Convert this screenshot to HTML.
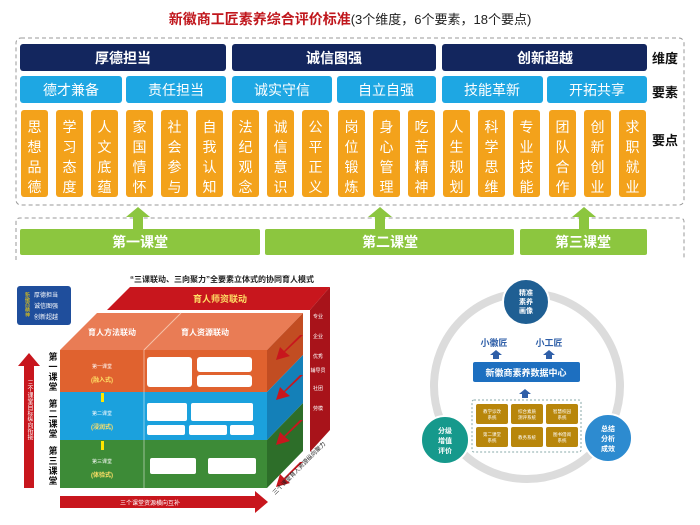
<!DOCTYPE html>
<html><head><meta charset="utf-8"><style>
html,body{margin:0;padding:0;background:#fff;}
svg{display:block;font-family:"Liberation Sans","Noto Sans CJK SC",sans-serif;}
</style></head><body>
<svg width="700" height="525" viewBox="0 0 700 525" xmlns="http://www.w3.org/2000/svg">
<!-- TOP -->
<text x="350" y="24" text-anchor="middle" font-size="14" font-weight="bold"><tspan fill="#c0161c">新徽商工匠素养综合评价标准</tspan><tspan fill="#222" font-weight="normal" font-size="13">(3个维度，6个要素，18个要点)</tspan></text>
<rect x="16" y="38" width="668" height="167" rx="5" fill="none" stroke="#999" stroke-dasharray="4,3"/>
<g fill="#13265e">
<rect x="20" y="44" width="206" height="27" rx="3"/><rect x="232" y="44" width="204" height="27" rx="3"/><rect x="442" y="44" width="205" height="27" rx="3"/>
</g>
<g fill="#fff" font-size="14" font-weight="bold" text-anchor="middle">
<text x="123" y="63">厚德担当</text><text x="334" y="63">诚信图强</text><text x="545" y="63">创新超越</text>
</g>
<g fill="#1ea7e3">
<rect x="20" y="76" width="102" height="27" rx="3"/><rect x="126" y="76" width="100" height="27" rx="3"/><rect x="232" y="76" width="100" height="27" rx="3"/><rect x="337" y="76" width="99" height="27" rx="3"/><rect x="442" y="76" width="101" height="27" rx="3"/><rect x="547" y="76" width="100" height="27" rx="3"/>
</g>
<g fill="#fff" font-size="14" text-anchor="middle">
<text x="71" y="95">德才兼备</text><text x="176" y="95">责任担当</text><text x="282" y="95">诚实守信</text><text x="386" y="95">自立自强</text><text x="492" y="95">技能革新</text><text x="597" y="95">开拓共享</text>
</g>
<g font-size="13" font-weight="bold" fill="#111">
<text x="652" y="63">维度</text><text x="652" y="97">要素</text><text x="652" y="145">要点</text>
</g>
<g fill="#f3a21b">
<rect x="21" y="110" width="27" height="87" rx="3"/><rect x="56" y="110" width="27" height="87" rx="3"/><rect x="91" y="110" width="27" height="87" rx="3"/><rect x="126" y="110" width="27" height="87" rx="3"/><rect x="161" y="110" width="27" height="87" rx="3"/><rect x="196" y="110" width="27" height="87" rx="3"/>
<rect x="232" y="110" width="27" height="87" rx="3"/><rect x="267" y="110" width="27" height="87" rx="3"/><rect x="302" y="110" width="27" height="87" rx="3"/><rect x="338" y="110" width="27" height="87" rx="3"/><rect x="373" y="110" width="27" height="87" rx="3"/><rect x="408" y="110" width="27" height="87" rx="3"/>
<rect x="443" y="110" width="27" height="87" rx="3"/><rect x="478" y="110" width="27" height="87" rx="3"/><rect x="513" y="110" width="27" height="87" rx="3"/><rect x="549" y="110" width="27" height="87" rx="3"/><rect x="584" y="110" width="27" height="87" rx="3"/><rect x="619" y="110" width="27" height="87" rx="3"/>
</g>
<g fill="#fff" font-size="14" text-anchor="middle">
<text x="34.5" y="132"><tspan x="34.5">思</tspan><tspan x="34.5" dy="20">想</tspan><tspan x="34.5" dy="20">品</tspan><tspan x="34.5" dy="20">德</tspan></text>
<text y="132"><tspan x="69.5">学</tspan><tspan x="69.5" dy="20">习</tspan><tspan x="69.5" dy="20">态</tspan><tspan x="69.5" dy="20">度</tspan></text>
<text y="132"><tspan x="104.5">人</tspan><tspan x="104.5" dy="20">文</tspan><tspan x="104.5" dy="20">底</tspan><tspan x="104.5" dy="20">蕴</tspan></text>
<text y="132"><tspan x="139.5">家</tspan><tspan x="139.5" dy="20">国</tspan><tspan x="139.5" dy="20">情</tspan><tspan x="139.5" dy="20">怀</tspan></text>
<text y="132"><tspan x="174.5">社</tspan><tspan x="174.5" dy="20">会</tspan><tspan x="174.5" dy="20">参</tspan><tspan x="174.5" dy="20">与</tspan></text>
<text y="132"><tspan x="209.5">自</tspan><tspan x="209.5" dy="20">我</tspan><tspan x="209.5" dy="20">认</tspan><tspan x="209.5" dy="20">知</tspan></text>
<text y="132"><tspan x="245.5">法</tspan><tspan x="245.5" dy="20">纪</tspan><tspan x="245.5" dy="20">观</tspan><tspan x="245.5" dy="20">念</tspan></text>
<text y="132"><tspan x="280.5">诚</tspan><tspan x="280.5" dy="20">信</tspan><tspan x="280.5" dy="20">意</tspan><tspan x="280.5" dy="20">识</tspan></text>
<text y="132"><tspan x="315.5">公</tspan><tspan x="315.5" dy="20">平</tspan><tspan x="315.5" dy="20">正</tspan><tspan x="315.5" dy="20">义</tspan></text>
<text y="132"><tspan x="351.5">岗</tspan><tspan x="351.5" dy="20">位</tspan><tspan x="351.5" dy="20">锻</tspan><tspan x="351.5" dy="20">炼</tspan></text>
<text y="132"><tspan x="386.5">身</tspan><tspan x="386.5" dy="20">心</tspan><tspan x="386.5" dy="20">管</tspan><tspan x="386.5" dy="20">理</tspan></text>
<text y="132"><tspan x="421.5">吃</tspan><tspan x="421.5" dy="20">苦</tspan><tspan x="421.5" dy="20">精</tspan><tspan x="421.5" dy="20">神</tspan></text>
<text y="132"><tspan x="456.5">人</tspan><tspan x="456.5" dy="20">生</tspan><tspan x="456.5" dy="20">规</tspan><tspan x="456.5" dy="20">划</tspan></text>
<text y="132"><tspan x="491.5">科</tspan><tspan x="491.5" dy="20">学</tspan><tspan x="491.5" dy="20">思</tspan><tspan x="491.5" dy="20">维</tspan></text>
<text y="132"><tspan x="526.5">专</tspan><tspan x="526.5" dy="20">业</tspan><tspan x="526.5" dy="20">技</tspan><tspan x="526.5" dy="20">能</tspan></text>
<text y="132"><tspan x="562.5">团</tspan><tspan x="562.5" dy="20">队</tspan><tspan x="562.5" dy="20">合</tspan><tspan x="562.5" dy="20">作</tspan></text>
<text y="132"><tspan x="597.5">创</tspan><tspan x="597.5" dy="20">新</tspan><tspan x="597.5" dy="20">创</tspan><tspan x="597.5" dy="20">业</tspan></text>
<text y="132"><tspan x="632.5">求</tspan><tspan x="632.5" dy="20">职</tspan><tspan x="632.5" dy="20">就</tspan><tspan x="632.5" dy="20">业</tspan></text>
</g>
<path d="M16 260 V222 Q16 218 20 218 H680 Q684 218 684 222 V260" fill="none" stroke="#999" stroke-dasharray="4,3"/>
<g fill="#8cc63f">
<polygon points="138,207 150,217 143,217 143,229 133,229 133,217 126,217"/>
<polygon points="380,207 392,217 385,217 385,229 375,229 375,217 368,217"/>
<polygon points="584,207 596,217 589,217 589,229 579,229 579,217 572,217"/>
<rect x="20" y="229" width="240" height="26" rx="2"/><rect x="265" y="229" width="249" height="26" rx="2"/><rect x="520" y="229" width="127" height="26" rx="2"/>
</g>
<g fill="#fff" font-size="14" font-weight="bold" text-anchor="middle">
<text x="140" y="247">第一课堂</text><text x="390" y="247">第二课堂</text><text x="583" y="247">第三课堂</text>
</g>

<!-- BOTTOM LEFT -->
<text x="222" y="282" text-anchor="middle" font-size="8" font-weight="bold" fill="#222">“三课联动、三向聚力”全要素立体式的协同育人模式</text>
<rect x="17" y="286" width="54" height="39" rx="3" fill="#1f4e9c"/>
<g fill="#fff" font-size="6"><text x="34" y="297">厚德担当</text><text x="34" y="308">诚信图强</text><text x="34" y="319">创新超越</text></g>
<text x="27" y="292" font-size="5" fill="#ffd400" writing-mode="tb">新徽商精神</text>
<!-- red back slab -->
<polygon points="107,310 130,287 330,287 310,310" fill="#c8161d"/>
<polygon points="310,310 330,287 330,430 310,452" fill="#a8131a"/>
<text x="220" y="302" text-anchor="middle" font-size="9" font-weight="bold" fill="#ffe066">育人师资联动</text>
<g fill="#fff" font-size="5" text-anchor="middle"><text x="318" y="318">专业</text><text x="318" y="338">企业</text><text x="318" y="358">优秀</text><text x="318" y="372">辅导员</text><text x="318" y="390">社团</text><text x="318" y="410">劳模</text></g>
<!-- orange -->
<polygon points="60,350 97,313 303,313 267,350" fill="#e97c55"/>
<line x1="144" y1="350" x2="181" y2="313" stroke="#f6c2a8" stroke-width="1"/>
<text x="112" y="335" text-anchor="middle" font-size="8" font-weight="bold" fill="#fff">育人方法联动</text>
<text x="205" y="335" text-anchor="middle" font-size="8" font-weight="bold" fill="#fff">育人资源联动</text>
<rect x="60" y="350" width="207" height="42" fill="#e0622f"/>
<polygon points="267,350 303,313 303,355 267,392" fill="#c24d22"/>
<rect x="147" y="357" width="45" height="30" rx="3" fill="#fff"/><rect x="197" y="357" width="55" height="15" rx="3" fill="#fff"/><rect x="197" y="375" width="55" height="12" rx="3" fill="#fff"/>
<!-- blue -->
<rect x="60" y="392" width="207" height="48" fill="#1ba1dd"/>
<polygon points="267,392 303,355 303,403 267,440" fill="#1480b8"/>
<rect x="147" y="403" width="40" height="18" rx="2" fill="#fff"/><rect x="191" y="403" width="62" height="18" rx="2" fill="#fff"/>
<rect x="147" y="425" width="38" height="10" rx="2" fill="#fff"/><rect x="189" y="425" width="38" height="10" rx="2" fill="#fff"/><rect x="230" y="425" width="24" height="10" rx="2" fill="#fff"/>
<!-- green -->
<rect x="60" y="440" width="207" height="48" fill="#3d8b37"/>
<polygon points="267,440 303,403 303,451 267,488" fill="#2d6e29"/>
<rect x="150" y="458" width="46" height="16" rx="2" fill="#fff"/><rect x="208" y="458" width="48" height="16" rx="2" fill="#fff"/>
<line x1="144" y1="350" x2="144" y2="488" stroke="#fff" stroke-width="0.8" opacity=".6"/>
<g fill="#fff" font-size="5" text-anchor="middle">
<text x="102" y="368">第一课堂</text><text x="102" y="415">第二课堂</text><text x="102" y="463">第三课堂</text>
</g>
<g fill="#ffe066" font-size="6" font-weight="bold" text-anchor="middle">
<text x="102" y="382">(融入式)</text><text x="102" y="429">(浸润式)</text><text x="102" y="477">(体验式)</text>
</g>
<g fill="#ffe600"><rect x="101" y="393" width="3" height="9"/><rect x="101" y="441" width="3" height="9"/></g>
<g font-size="9" font-weight="bold" fill="#111" text-anchor="middle">
<text y="360"><tspan x="53">第</tspan><tspan x="53" dy="10">一</tspan><tspan x="53" dy="10">课</tspan><tspan x="53" dy="10">堂</tspan></text>
<text y="407"><tspan x="53">第</tspan><tspan x="53" dy="10">二</tspan><tspan x="53" dy="10">课</tspan><tspan x="53" dy="10">堂</tspan></text>
<text y="454"><tspan x="53">第</tspan><tspan x="53" dy="10">三</tspan><tspan x="53" dy="10">课</tspan><tspan x="53" dy="10">堂</tspan></text>
</g>
<polygon points="29,353 40,366 34,366 34,488 24,488 24,366 18,366" fill="#c8161d"/>
<text x="29" y="380" font-size="6" fill="#fff" writing-mode="tb">三个课堂目标纵向衔接</text>
<polygon points="60,496 255,496 255,491 268,502 255,513 255,508 60,508" fill="#c8161d"/>
<text x="150" y="505" text-anchor="middle" font-size="6" fill="#fff">三个课堂资源横向互补</text>
<g fill="#c8161d">
<polygon points="303,335 285,352 290,356 276,360 280,347 284,351 300,335"/>
<polygon points="303,375 285,392 290,396 276,400 280,387 284,391 300,375"/>
<polygon points="303,420 285,437 290,441 276,445 280,432 284,436 300,420"/>
<polygon points="303,462 285,479 290,483 276,487 280,474 284,478 300,462"/>
</g>
<text x="275" y="495" font-size="6" fill="#222" transform="rotate(-45 275 495)">三个课堂育人资源纵向聚力</text>

<!-- BOTTOM RIGHT -->
<circle cx="527" cy="386" r="93" fill="none" stroke="#dcdcdc" stroke-width="8"/>
<circle cx="526" cy="302" r="23" fill="#1f5f93" stroke="#fff" stroke-width="2"/>
<g fill="#fff" font-size="7" font-weight="bold" text-anchor="middle"><text x="526" y="295">精准</text><text x="526" y="304">素养</text><text x="526" y="313">画像</text></g>
<circle cx="445" cy="440" r="24" fill="#16998c" stroke="#fff" stroke-width="2"/>
<g fill="#fff" font-size="7" font-weight="bold" text-anchor="middle"><text x="445" y="433">分级</text><text x="445" y="443">增值</text><text x="445" y="453">评价</text></g>
<circle cx="608" cy="438" r="24" fill="#2d8bd0" stroke="#fff" stroke-width="2"/>
<g fill="#fff" font-size="7" font-weight="bold" text-anchor="middle"><text x="608" y="431">总结</text><text x="608" y="441">分析</text><text x="608" y="451">成效</text></g>
<g fill="#2f5fa8" font-size="9" font-weight="bold" text-anchor="middle"><text x="494" y="346">小徽匠</text><text x="549" y="346">小工匠</text></g>
<g fill="#2f5fa8">
<polygon points="496,350 502,355 499,355 499,359 493,359 493,355 490,355"/>
<polygon points="549,350 555,355 552,355 552,359 546,359 546,355 543,355"/>
<polygon points="525,389 531,394 528,394 528,398 522,398 522,394 519,394"/>
</g>
<rect x="473" y="362" width="107" height="20" rx="2" fill="#1d6fc0"/>
<text x="526" y="376" text-anchor="middle" font-size="9" font-weight="bold" fill="#fff">新徽商素养数据中心</text>
<rect x="472" y="400" width="109" height="52" rx="2" fill="none" stroke="#8aa" stroke-dasharray="2,2"/>
<g fill="#b8860b">
<rect x="476" y="404" width="32" height="20" rx="2"/><rect x="511" y="404" width="32" height="20" rx="2"/><rect x="546" y="404" width="32" height="20" rx="2"/>
<rect x="476" y="427" width="32" height="20" rx="2"/><rect x="511" y="427" width="32" height="20" rx="2"/><rect x="546" y="427" width="32" height="20" rx="2"/>
</g>
<g fill="#fff" font-size="4.5" text-anchor="middle">
<text x="492" y="413">教学诊改</text><text x="492" y="419">系统</text>
<text x="527" y="413">综合素质</text><text x="527" y="419">测评系统</text>
<text x="562" y="413">智慧校园</text><text x="562" y="419">系统</text>
<text x="492" y="436">第二课堂</text><text x="492" y="442">系统</text>
<text x="527" y="439">教务系统</text>
<text x="562" y="436">图书借阅</text><text x="562" y="442">系统</text>
</g>
</svg>
</body></html>
